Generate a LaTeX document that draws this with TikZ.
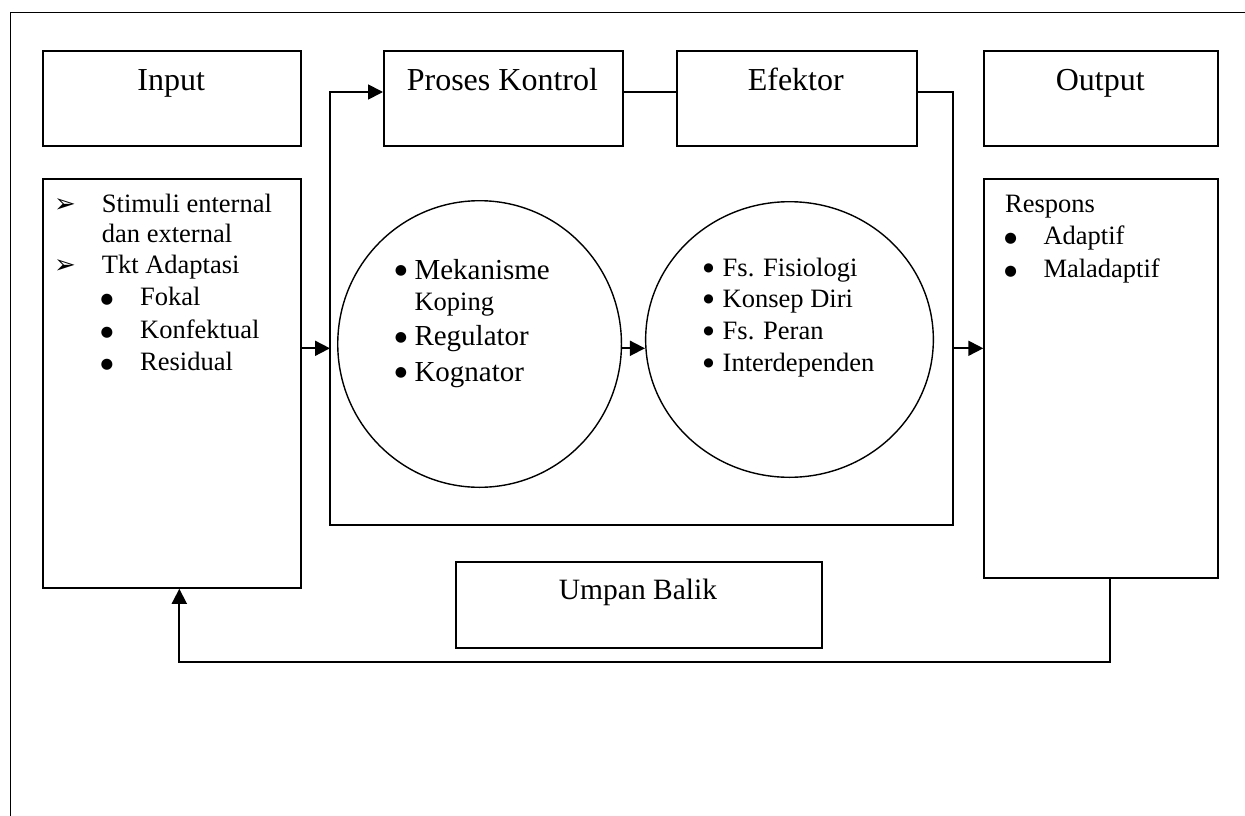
\documentclass[tikz,border=0pt]{standalone}
\usepackage{fontspec}
\setmainfont{Liberation Serif}
\newfontfamily\djv{DejaVu Sans}
\usetikzlibrary{shapes.geometric,arrows.meta}
\begin{document}
\begin{tikzpicture}[x=1pt,y=-1pt,
  box/.style={draw, line width=1.8pt, rectangle, inner sep=0pt, anchor=north west},
  conn/.style={line width=1.8pt},
  arr/.style={conn, -{Triangle[length=15pt,width=15pt]}},
  oval/.style={draw, ellipse, line width=1.4pt, inner sep=0pt},
  ttl/.style={font=\fontsize{32}{38}\selectfont, anchor=base, inner sep=0pt},
  lst/.style={font=\fontsize{26.5}{32}\selectfont, anchor=base west, inner sep=0pt},
  bulA/.style={font=\djv\fontsize{14.5}{17}\selectfont, anchor=base, inner sep=0pt, yshift=2pt},
  bulB/.style={font=\djv\fontsize{14}{16}\selectfont, anchor=base, inner sep=0pt, yshift=4.5pt},
  bulC/.style={font=\djv\fontsize{12}{14}\selectfont, anchor=base, inner sep=0pt, yshift=4.8pt},
  big/.style={font=\fontsize{29}{35}\selectfont, anchor=base west, inner sep=0pt},
  mrk/.style={font=\djv\fontsize{26}{30}\selectfont, anchor=base west, inner sep=0pt}
]
\useasboundingbox (0,0) rectangle (1245,816);
\fill[white] (0,0) rectangle (1245,816);

% outer frame
\coordinate (ftr) at (1245,12.3);
\coordinate (ftl) at (10.7,12.3);
\coordinate (fbl) at (10.7,816);
\draw[line width=1.5pt] (ftr) -- (ftl) -- (fbl);

% boxes
\node[box, minimum width=257.7pt, minimum height=95.3pt] (inbox) at (42.3,50) {};
\node[box, minimum width=257.7pt, minimum height=409.3pt] (inlist) at (42.3,177.7) {};
\node[box, minimum width=238.9pt, minimum height=95.3pt] (proses) at (383,50) {};
\node[box, minimum width=240pt, minimum height=95.3pt] (eff) at (675.8,50) {};
\node[box, minimum width=233.7pt, minimum height=95.3pt] (outbox) at (983.3,50) {};
\node[box, minimum width=233.7pt, minimum height=399pt] (outlist) at (983.3,177.7) {};
\node[box, minimum width=366.6pt, minimum height=85.7pt] (umpan) at (454.7,561) {};

% circles
\node[oval, minimum width=283.7pt, minimum height=286.6pt] (c1) at (479.6,344) {};
\node[oval, minimum width=287.7pt, minimum height=275.6pt] (c2) at (789.5,339.5) {};

% control frame
\coordinate (ctl) at (330,92);
\coordinate (cbl) at (330,525.3);
\coordinate (cbr) at (953.3,525.3);
\coordinate (ctr) at (953.3,92);
\draw[arr] (eff.east |- ctr) -- (ctr) -- (cbr) -- (cbl) -- (ctl) -- (proses.west |- ctl);
\draw[conn] (proses.east |- ctl) -- (eff.west |- ctl);

% middle arrows
\coordinate (my) at (0,348.3);
\draw[arr] (inlist.east |- my) -- (cbl |- my);
\draw[arr] (c1.east |- my) -- (c2.west |- my);
\draw[arr] (cbr |- my) -- (outlist.west |- my);

% feedback
\coordinate (fbr) at (1110,662.3);
\coordinate (fbl2) at (179.3,662.3);
\draw[arr] (outlist.south -| fbr) -- (fbr) -- (fbl2) -- (inlist.south -| fbl2);

% titles
\node[ttl] (tin) at (171.2,90.7) {Input};
\node[ttl] (tpr) at (502.4,91) {Proses Kontrol};
\node[ttl] (tef) at (795.8,91) {Efektor};
\node[ttl] (tout) at (1100.2,90.7) {Output};
\node[font=\fontsize{29.5}{35}\selectfont, anchor=base, inner sep=0pt] (tub) at (638,599.3) {Umpan Balik};

% input list
\node[mrk] (m1) at (54,212) {➢};
\node[lst] (i1) at (101.7,212) {Stimuli enternal};
\node[lst] (i2) at (101.7,242) {dan external};
\node[mrk] (m2) at (54,273) {➢};
\node[lst] (i3) at (101.7,273) {Tkt Adaptasi};
\node[bulA] (b4) at (107,305.7) {●};
\node[lst] (i4) at (140,305.7) {Fokal};
\node[bulA] (b5) at (107,338) {●};
\node[lst] (i5) at (140,338) {Konfektual};
\node[bulA] (b6) at (107,370.7) {●};
\node[lst] (i6) at (140,370.7) {Residual};

% output list
\node[lst] (o1) at (1005,212) {Respons};
\node[bulA] (ob2) at (1010.7,244.3) {●};
\node[lst] (o2) at (1043.3,244.3) {Adaptif};
\node[bulA] (ob3) at (1010.7,277.3) {●};
\node[lst] (o3) at (1043.3,277.3) {Maladaptif};

% circle 1 text
\node[bulB] (cb1) at (401,279.3) {●};
\node[big] (ct1) at (414.3,279.3) {Mekanisme};
\node[lst] (ct2) at (414.3,310.7) {Koping};
\node[bulB] (cb3) at (401,345.7) {●};
\node[big] (ct3) at (414.3,345.7) {Regulator};
\node[bulB] (cb4) at (401,381) {●};
\node[big] (ct4) at (414.3,381) {Kognator};

% circle 2 text
\node[bulC] (db1) at (708.5,276) {●};
\node[lst] (dt1) at (722.5,276) {Fs. Fisiologi};
\node[bulC] (db2) at (708.5,307.3) {●};
\node[lst] (dt2) at (722.5,307.3) {Konsep Diri};
\node[bulC] (db3) at (708.5,339.3) {●};
\node[lst] (dt3) at (722.5,339.3) {Fs. Peran};
\node[bulC] (db4) at (708.5,371.7) {●};
\node[lst] (dt4) at (722.5,371.7) {Interdependen};
\end{tikzpicture}
\end{document}
